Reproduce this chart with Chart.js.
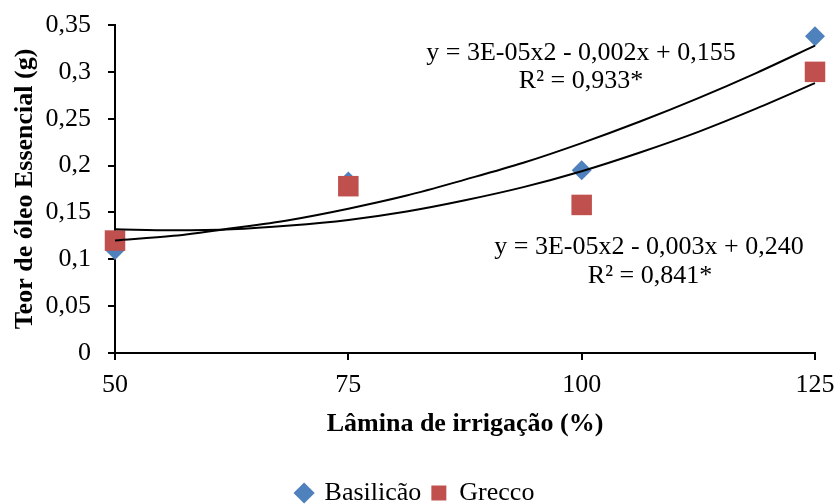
<!DOCTYPE html>
<html>
<head>
<meta charset="utf-8">
<script src="https://cdn.jsdelivr.net/npm/chart.js"></script>
<style>
  body { margin: 0; background: #fff; }
</style>
</head>
<body>
<canvas id="chart" width="837" height="504"></canvas>
<script>
const laminas = [50, 75, 100, 125];
const basilicao = [0.110, 0.183, 0.195, 0.338];
const grecco = [0.120, 0.178, 0.158, 0.300];

// curvas de tendência
const trendX = [50, 56.25, 62.5, 68.75, 75, 81.25, 87.5, 93.75, 100, 106.25, 112.5, 118.75, 125];
const trendBasilicao = [0.120, 0.125, 0.133, 0.142, 0.154, 0.168, 0.185, 0.203, 0.224, 0.247, 0.272, 0.299, 0.328];
const trendGrecco = [0.132, 0.131, 0.132, 0.136, 0.142, 0.151, 0.163, 0.177, 0.194, 0.214, 0.236, 0.261, 0.288];

const xTicks = [50, 75, 100, 125];
const yTicks = [0, 0.05, 0.1, 0.15, 0.2, 0.25, 0.3, 0.35];
const yTickLabels = ['0', '0,05', '0,1', '0,15', '0,2', '0,25', '0,3', '0,35'];

const eqBasilicao = ['y = 3E-05x2 - 0,002x + 0,155', 'R² = 0,933*'];
const eqGrecco = ['y = 3E-05x2 - 0,003x + 0,240', 'R² = 0,841*'];

const serif = '"Liberation Serif", "Times New Roman", serif';

const toPoints = (xs, ys) => xs.map((x, i) => ({ x: x, y: ys[i] }));

const equacoes = {
    id: 'equacoes',
    afterDatasetsDraw(chart) {
        const ctx = chart.ctx;
        ctx.save();
        ctx.font = '26px ' + serif;
        ctx.fillStyle = '#000';
        ctx.textAlign = 'center';
        ctx.textBaseline = 'middle';
        ctx.fillText(eqBasilicao[0], 581, 53);
        ctx.fillText(eqBasilicao[1], 581, 81);
        ctx.fillText(eqGrecco[0], 649, 247);
        ctx.fillText(eqGrecco[1], 650, 276);
        ctx.restore();
    }
};

// legenda um pouco mais abaixo e à direita, como no original
const legendaAbaixo = {
    id: 'legendaAbaixo',
    afterLayout(chart) {
        chart.legend.top += 12;
        chart.legend.bottom += 12;
        chart.legend.left += 8;
        chart.legend.right += 8;
    }
};

const ctx = document.getElementById('chart').getContext('2d');

const chart = new Chart(ctx, {
    type: 'scatter',
    data: {
        datasets: [{
            label: 'Basilicão',
            data: toPoints(laminas, basilicao),
            pointStyle: 'rectRot',
            pointRadius: 10,
            pointHoverRadius: 10,
            backgroundColor: '#4F81BD',
            borderColor: '#4F81BD',
            borderWidth: 0,
            clip: false,
            order: 2
        }, {
            label: 'Grecco',
            data: toPoints(laminas, grecco),
            pointStyle: 'rect',
            pointRadius: 14.5,
            pointHoverRadius: 14.5,
            backgroundColor: '#C0504D',
            borderColor: '#C0504D',
            borderWidth: 0,
            clip: false,
            order: 1
        }, {
            label: 'trend1',
            data: toPoints(trendX, trendBasilicao),
            showLine: true,
            pointRadius: 0,
            borderColor: '#000',
            borderWidth: 2,
            cubicInterpolationMode: 'monotone',
            clip: false,
            order: 0
        }, {
            label: 'trend2',
            data: toPoints(trendX, trendGrecco),
            showLine: true,
            pointRadius: 0,
            borderColor: '#000',
            borderWidth: 2,
            cubicInterpolationMode: 'monotone',
            clip: false,
            order: 0
        }]
    },
    options: {
        responsive: false,
        animation: false,
        devicePixelRatio: 1,
        layout: { padding: { top: 25, right: 22, left: 0, bottom: 0 } },
        plugins: {
            tooltip: { enabled: false },
            legend: {
                position: 'bottom',
                labels: {
                    usePointStyle: true,
                    boxWidth: 15,
                    boxHeight: 15,
                    padding: 10,
                    color: '#000',
                    font: { family: serif, size: 26 },
                    filter: item => item.datasetIndex < 2,
                    sort: (a, b) => a.datasetIndex - b.datasetIndex
                }
            }
        },
        scales: {
            x: {
                type: 'linear',
                min: 50,
                max: 125,
                afterBuildTicks: scale => { scale.ticks = xTicks.map(v => ({ value: v })); },
                afterFit: scale => {
                    scale.height = 105;
                    scale.paddingRight = 0;
                    scale.paddingLeft = 0;
                },
                grid: { display: true, drawOnChartArea: false, drawTicks: true, tickLength: 7, color: '#000', lineWidth: 2 },
                border: { display: true, color: '#000', width: 2 },
                ticks: { color: '#000', padding: 10, font: { family: serif, size: 26 }, maxRotation: 0 },
                title: {
                    display: true,
                    text: 'Lâmina de irrigação (%)',
                    color: '#000',
                    font: { family: serif, size: 26, weight: 'bold' },
                    padding: { top: 0, bottom: 18 }
                }
            },
            y: {
                min: 0,
                max: 0.35,
                afterBuildTicks: scale => { scale.ticks = yTicks.map(v => ({ value: v })); },
                afterFit: scale => {
                    scale.width = 115;
                    scale.paddingTop = 0;
                    scale.paddingBottom = 0;
                },
                grid: { display: true, drawOnChartArea: false, drawTicks: true, tickLength: 7, color: '#000', lineWidth: 2 },
                border: { display: true, color: '#000', width: 2 },
                ticks: {
                    color: '#000',
                    padding: 17,
                    font: { family: serif, size: 26 },
                    callback: (v, i) => yTickLabels[i]
                },
                title: {
                    display: true,
                    text: 'Teor de óleo Essencial (g)',
                    color: '#000',
                    font: { family: serif, size: 26, weight: 'bold' },
                    padding: { top: 10, bottom: 0 }
                }
            }
        }
    },
    plugins: [equacoes, legendaAbaixo]
});
</script>
</body>
</html>
